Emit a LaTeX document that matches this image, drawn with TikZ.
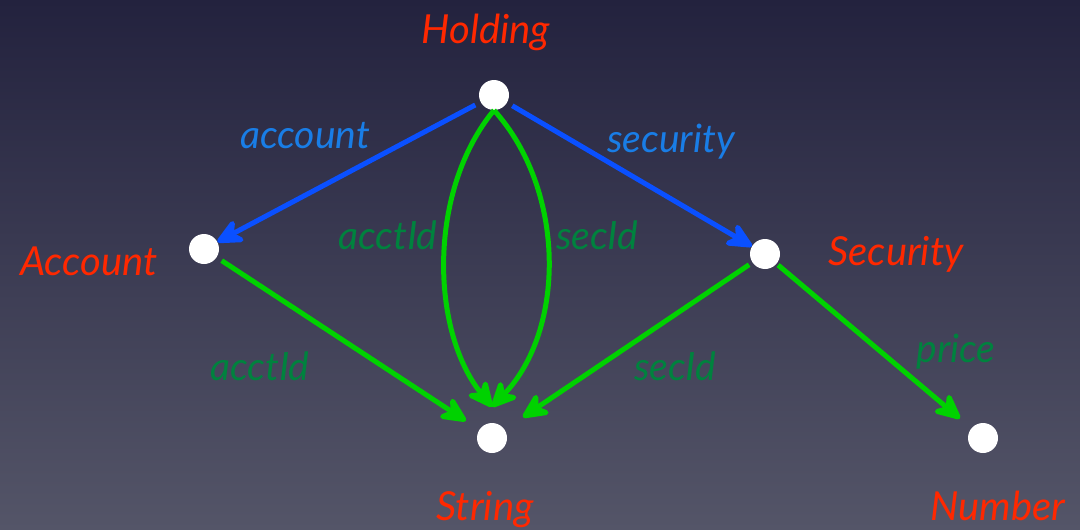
\documentclass[tikz,border=0pt]{standalone}
\usepackage{fontspec}
\setmainfont{Lato}
\usetikzlibrary{arrows.meta}
\definecolor{bgtop}{RGB}{35,34,62}
\definecolor{bgbot}{RGB}{84,85,104}
\definecolor{nred}{RGB}{255,40,0}
\definecolor{lblue}{RGB}{25,125,230}
\definecolor{lgreen}{RGB}{0,130,62}
\definecolor{eblue}{RGB}{10,80,255}
\definecolor{egreen}{RGB}{0,210,0}
\begin{document}
\begin{tikzpicture}[x=1pt,y=1pt,
  dot/.style={circle,fill=white,inner sep=0pt,minimum size=30pt},
  nlabel/.style={text=nred,font=\itshape\fontsize{40}{40}\selectfont,anchor=base,inner sep=0pt},
  blab/.style={text=lblue,font=\itshape\fontsize{39}{39}\selectfont,anchor=base,inner sep=0pt},
  glab/.style={text=lgreen,font=\itshape\fontsize{39}{39}\selectfont,anchor=base,inner sep=0pt},
  tip/.style={-{Stealth[length=32pt,width=30pt,inset=10pt,round]}},
  bedge/.style={draw=eblue,line width=5pt,tip},
  gedge/.style={draw=egreen,line width=5pt,tip}]
\shade[top color=bgtop,bottom color=bgbot] (0,0) rectangle (1080,-530);
\useasboundingbox (0,0) rectangle (1080,-530);

\node[dot] (H) at (494,-95) {};
\node[dot] (A) at (204,-249) {};
\node[dot] (S) at (765,-254) {};
\node[dot] (T) at (492,-438) {};
\node[dot] (N) at (983,-438) {};

\node[nlabel] (lH) at (486,-43) {Holding};
\node[nlabel] (lA) at (89,-275) {Account};
\node[nlabel] (lS) at (896,-265) {Security};
\node[nlabel] (lT) at (485,-520) {String};
\node[nlabel] (lN) at (998,-520) {Number};

\draw[bedge,shorten <=6pt] (H) -- (A);
\draw[bedge,shorten <=6pt] (H) -- (S);
\draw[gedge] (H.south) .. controls (428,-190) and (430,-330) .. ([yshift=16pt]T.north);
\draw[gedge] (H.south) .. controls (566,-190) and (566,-330) .. ([yshift=16pt]T.north);
\draw[gedge,shorten <=6pt,shorten >=16pt] (A) -- (T);
\draw[gedge,shorten <=4pt,shorten >=22pt] (S) -- (T);
\draw[gedge,shorten <=2pt,shorten >=15pt] (S) -- (N);

\node[blab] (eA) at (305,-148) {account};
\node[blab] (eS) at (671,-152) {security};
\node[glab] (e1) at (388,-249) {acctId};
\node[glab] (e2) at (597,-249) {secId};
\node[glab] (e3) at (260,-380) {acctId};
\node[glab] (e4) at (675,-380) {secId};
\node[glab] (e5) at (956,-362) {price};
\end{tikzpicture}
\end{document}
